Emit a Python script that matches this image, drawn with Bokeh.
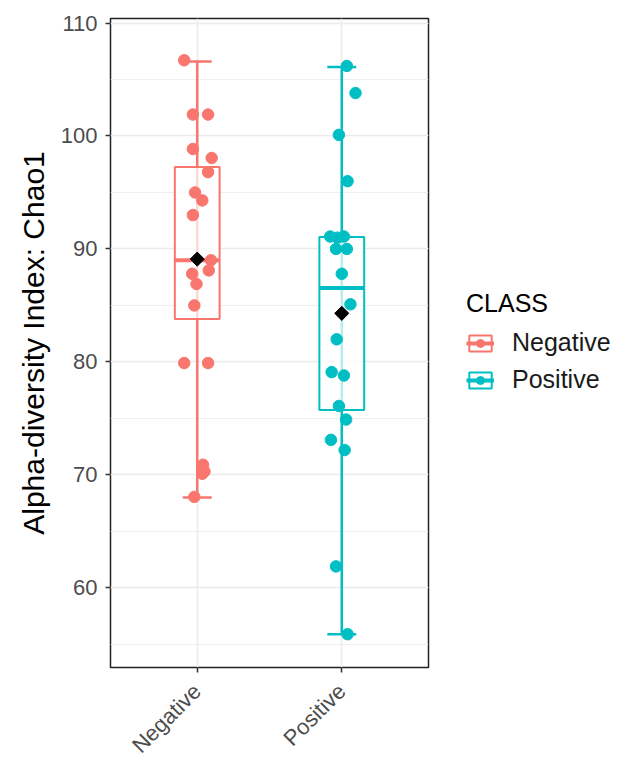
import numpy as np
from bokeh.plotting import figure
from bokeh.models import (ColumnDataSource, Range1d, FixedTicker, SingleIntervalTicker,
                          Legend, LegendItem)
from bokeh.embed import file_html
from bokeh.resources import INLINE

# ---------------- data ----------------
classes = ["Negative", "Positive"]
colors = ["#F8766D", "#00BFC4"]

neg_values = [106.7, 101.9, 101.9, 98.85, 98.05, 96.8, 95.0, 94.3, 93.0, 89.0,
              88.1, 87.8, 86.9, 85.0, 79.9, 79.9, 70.9, 70.3, 70.1, 68.05]
neg_jitter = [-0.09, -0.03, 0.075, -0.03, 0.10, 0.075, -0.015, 0.035, -0.03, 0.095,
              0.08, -0.035, -0.005, -0.02, -0.09, 0.075, 0.04, 0.05, 0.035, -0.02]

pos_values = [106.2, 103.8, 100.1, 96.0, 91.1, 91.0, 91.1, 90.0, 90.0, 87.8,
              85.1, 82.0, 79.1, 78.8, 76.1, 74.9, 73.1, 72.2, 61.9, 55.9]
pos_jitter = [0.035, 0.095, -0.02, 0.04, -0.08, -0.03, 0.015, -0.04, 0.035, 0.0,
              0.06, -0.035, -0.07, 0.015, -0.02, 0.03, -0.075, 0.02, -0.04, 0.04]

whisker_low = [68.0, 55.9]
q1 = [83.8, 75.75]
median = [89.0, 86.55]
q3 = [97.25, 91.05]
whisker_high = [106.6, 106.1]
means = [89.1, 84.3]

values = [neg_values, pos_values]
jitters = [neg_jitter, pos_jitter]

y_ticks_interval = 10
FONT = "Liberation Sans"
box_w = 0.31
cap_w = 0.2

# ---------------- figure ----------------
p = figure(frame_width=318, frame_height=649, output_backend="svg", toolbar_location=None,
           x_range=Range1d(0.4, 2.6), y_range=Range1d(52.95, 110.4),
           min_border_left=110, min_border_top=18, min_border_right=197,
           min_border_bottom=90, background_fill_color="white",
           border_fill_color="white")

p.outline_line_color = "#222222"
p.outline_line_width = 1.5

# axes
p.xaxis.ticker = FixedTicker(ticks=[i + 1 for i in range(len(classes))])
p.xaxis.major_label_overrides = {i + 1: c for i, c in enumerate(classes)}
p.xaxis.major_label_orientation = np.pi / 4
p.yaxis.ticker = SingleIntervalTicker(interval=y_ticks_interval, num_minor_ticks=2)

for ax in (p.xaxis, p.yaxis):
    ax.axis_line_color = None
    ax.minor_tick_line_color = None
    ax.major_tick_line_color = "#333333"
    ax.major_tick_line_width = 1.5
    ax.major_tick_out = 5
    ax.major_tick_in = 0
    ax.major_label_text_font = FONT
    ax.major_label_text_font_size = "22px"
    ax.major_label_text_color = "#4D4D4D"

p.xaxis.major_label_standoff = 15
p.yaxis.major_label_standoff = 8
p.yaxis.axis_label = "Alpha-diversity Index: Chao1"
p.yaxis.axis_label_text_font = FONT
p.yaxis.axis_label_text_font_size = "30px"
p.yaxis.axis_label_text_font_style = "normal"
p.yaxis.axis_label_text_color = "#000000"
p.yaxis.axis_label_standoff = 8

# grid
p.xgrid.ticker = FixedTicker(ticks=[i + 1 for i in range(len(classes))])
p.xgrid.grid_line_color = "#EBEBEB"
p.xgrid.grid_line_width = 1.5
p.ygrid.grid_line_color = "#EBEBEB"
p.ygrid.grid_line_width = 1.5
p.ygrid.minor_grid_line_color = "#EBEBEB"
p.ygrid.minor_grid_line_width = 0.8

items = []
for i, (cls, col) in enumerate(zip(classes, colors)):
    xc = i + 1
    src = ColumnDataSource(dict(
        x=[xc], lo=[whisker_low[i]], hi=[whisker_high[i]], q1=[q1[i]], q3=[q3[i]],
        med=[median[i]], mean=[means[i]],
        left=[xc - box_w / 2], right=[xc + box_w / 2],
        cl=[xc - cap_w / 2], cr=[xc + cap_w / 2]))
    p.segment(x0="x", y0="lo", x1="x", y1="hi", source=src, line_color=col, line_width=2.5)
    p.segment(x0="cl", y0="hi", x1="cr", y1="hi", source=src, line_color=col, line_width=2.5)
    p.segment(x0="cl", y0="lo", x1="cr", y1="lo", source=src, line_color=col, line_width=2.5)
    box = p.quad(left="left", right="right", bottom="q1", top="q3", source=src,
                 fill_color="white", fill_alpha=0.72, line_color=col, line_width=2)
    med = p.segment(x0="left", y0="med", x1="right", y1="med", source=src,
                    line_color=col, line_width=4)
    psrc = ColumnDataSource(dict(x=[xc + j for j in jitters[i]], y=values[i]))
    pts = p.scatter(x="x", y="y", source=psrc, size=11.5, fill_color=col, line_color=col)
    items.append(LegendItem(label=cls, renderers=[box, med, pts]))

for i in range(len(classes)):
    msrc = ColumnDataSource(dict(x=[i + 1], y=[means[i]]))
    p.scatter(x="x", y="y", source=msrc, marker="square", angle=np.pi / 4, size=10,
              fill_color="black", line_color="black")

legend = Legend(items=items, location="center_left")
legend.title = "CLASS"
legend.title_text_font = FONT
legend.title_text_font_size = "25px"
legend.title_text_font_style = "normal"
legend.title_text_color = "#000000"
legend.title_standoff = 8
legend.label_text_font = FONT
legend.label_text_font_size = "25px"
legend.label_text_color = "#1A1A1A"
legend.label_standoff = 18
legend.glyph_width = 28
legend.glyph_height = 20
legend.label_height = 34
legend.spacing = 3
legend.padding = 0
legend.margin = 38
legend.border_line_color = None
legend.background_fill_alpha = 0
p.add_layout(legend, "right")

open("out.html", "w").write(file_html(p, INLINE))
